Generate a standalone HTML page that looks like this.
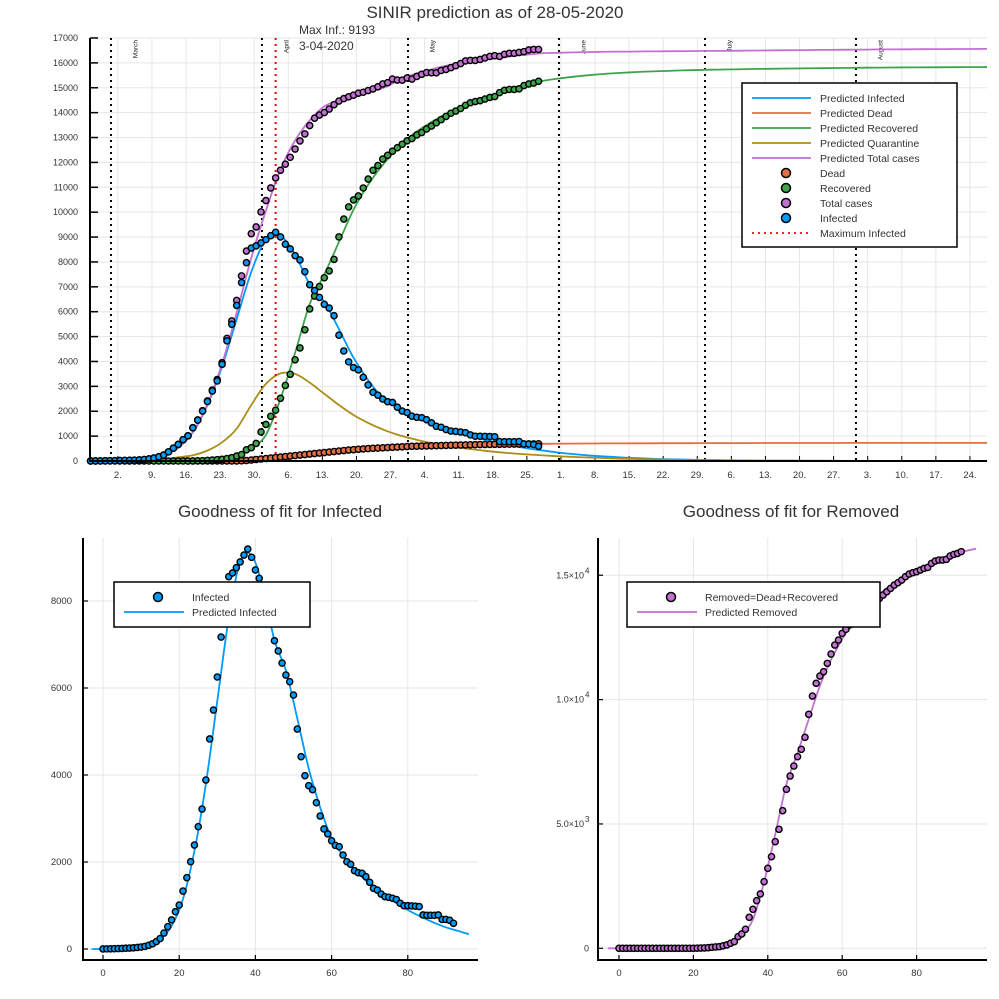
<!DOCTYPE html>
<html><head><meta charset="utf-8"><style>
html,body{margin:0;padding:0;background:#fff;}
svg{display:block;font-family:"Liberation Sans",sans-serif;}
</style></head><body>
<svg id="root" width="999" height="999" viewBox="0 0 999 999" xmlns="http://www.w3.org/2000/svg">
<rect width="999" height="999" fill="#fff"/>
<text x="495" y="18" font-size="17" text-anchor="middle" fill="#333">SINIR prediction as of 28-05-2020</text>
<text x="280" y="517" font-size="17" text-anchor="middle" fill="#333">Goodness of fit for Infected</text>
<text x="791" y="517" font-size="17" text-anchor="middle" fill="#333">Goodness of fit for Removed</text>
<g id="top"></g>
<g id="bl"></g>
<g id="br"></g>
</svg>
<script>
// ---- observed data (index = day since start) ----
const infected = [2,3,5,7,10,14,18,22,28,35,45,60,85,120,170,240,367,513,667,857,1011,1333,1640,2007,2390,2812,3218,3885,4828,5494,6253,7172,7970,8560,8644,8766,8897,9057,9193,9004,8713,8521,8250,8080,7610,7087,6851,6574,6298,6145,5839,5057,4421,3984,3754,3662,3363,3057,2759,2644,2490,2382,2352,2161,2007,1946,1800,1754,1739,1662,1533,1395,1356,1264,1203,1188,1165,1138,1050,995,995,990,985,975,782,775,775,775,782,680,680,660,590];
const removed = [0,0,0,0,0,0,0,0,0,0,0,0,0,0,0,0,0,0,0,0,0,5,10,15,25,40,55,67,100,134,200,268,469,576,764,1246,1568,1916,2184,2680,3216,3685,4288,4784,5534,6392,6928,7330,7705,8000,8482,9407,10144,10653,10948,11122,11457,11832,12194,12395,12663,12824,13000,13150,13300,13450,13550,13700,13800,13950,14070,14204,14338,14472,14606,14700,14807,14941,15048,15102,15142,15209,15276,15316,15477,15571,15611,15611,15638,15772,15839,15879,15950];
const dead = [0,0,0,0,0,0,0,0,0,0,0,0,0,0,0,0,0,0,0,0,0,0,0,0,0,0,0,0,0,0,0,10,20,40,60,80,100,120,140,160,180,200,220,240,260,280,300,320,340,360,380,400,420,440,455,470,485,500,510,520,530,540,550,560,570,580,590,595,600,605,610,615,620,625,630,635,640,645,650,655,660,663,666,669,672,675,678,680,682,684,686,688,690];
// ---- predicted series, sampled every 3 days starting at day -6 ----
const predStart = -6, predStep = 3;
const predInfected = [0,1,3,8,18,40,90,230,530,1150,2250,3800,5700,7600,8900,9050,8300,7100,6400,5300,4150,3250,2550,2150,1830,1570,1360,1180,1000,850,720,600,500,420,340,280,230,190,155,125,100,80,65,52,42,34,27,22,17,14,11,9,7,6,5,4,3,2,2,1,1,1,1,0,0];
const predRecovered = [0,0,0,0,0,0,0,0,5,15,40,100,230,500,1050,2500,4350,6300,7500,8800,10100,11100,11900,12550,13100,13500,13850,14150,14400,14620,14800,15000,15150,15280,15370,15440,15500,15550,15590,15620,15650,15670,15690,15705,15720,15730,15740,15750,15760,15768,15775,15782,15788,15794,15800,15805,15810,15814,15818,15821,15824,15827,15829,15831,15833];
const predDead = [0,0,0,0,0,0,0,0,0,0,0,5,25,60,110,170,230,290,350,405,455,500,535,565,590,610,628,643,655,665,674,681,687,692,696,700,703,706,708,710,712,714,716,717,718,719,720,721,722,723,724,724,725,725,726,726,727,727,727,728,728,728,728,729,729];
const predQuarantine = [0,0,0,0,0,0,20,60,150,230,420,750,1300,2250,3100,3520,3500,3150,2700,2250,1850,1530,1270,1060,900,760,650,560,480,410,350,300,260,225,190,165,140,120,100,85,72,60,50,42,35,29,24,20,17,14,12,10,8,7,6,5,4,3,3,2,2,2,1,1,1];
// ---- axis labels ----
const topYTicks = [0,1000,2000,3000,4000,5000,6000,7000,8000,9000,10000,11000,12000,13000,14000,15000,16000,17000];
const dateTickDays = [1,8,15,22,29,36,43,50,57,64,71,78,85,92,99,106,113,120,127,134,141,148,155,162,169,176];
const dateTickLabels = ["2.","9.","16.","23.","30.","6.","13.","20.","27.","4.","11.","18.","25.","1.","8.","15.","22.","29.","6.","13.","20.","27.","3.","10.","17.","24."];
const monthDays = [0,31,61,92,122,153];
const monthNames = ["March","April","May","June","July","August"];
const maxInfDay = 38;
const blYTicks = [0,2000,4000,6000,8000];
const fitXTicks = [0,20,40,60,80];
const brYTicks = [0,5000,10000,15000];
const brYMant = ["0","5.0×10","1.0×10","1.5×10"];
const brYExp = ["","3","4","4"];

const NS = "http://www.w3.org/2000/svg";
const C = {blue:"#009AFA",orange:"#E26F46",green:"#3DA44D",olive:"#AC8D18",purple:"#C271D2",grid:"#e6e6e6",txt:"#333"};
function mk(parent, tag, attrs){const e=document.createElementNS(NS,tag);for(const k in attrs)e.setAttribute(k,attrs[k]);parent.appendChild(e);return e;}
function smoothPath(pts){
  let d="M"+pts[0][0].toFixed(1)+","+pts[0][1].toFixed(1);
  for(let i=0;i<pts.length-1;i++){
    const p0=pts[Math.max(0,i-1)],p1=pts[i],p2=pts[i+1],p3=pts[Math.min(pts.length-1,i+2)];
    const c1=[p1[0]+(p2[0]-p0[0])/6,p1[1]+(p2[1]-p0[1])/6];
    const c2=[p2[0]-(p3[0]-p1[0])/6,p2[1]-(p3[1]-p1[1])/6];
    d+="C"+c1[0].toFixed(1)+","+c1[1].toFixed(1)+" "+c2[0].toFixed(1)+","+c2[1].toFixed(1)+" "+p2[0].toFixed(1)+","+p2[1].toFixed(1);
  }
  return d;
}
function predPts(arr, xf, yf, lo, hi){
  const pts=[];
  arr.forEach((v,k)=>{const day=predStart+k*predStep; if(day>=lo&&day<=hi) pts.push([xf(day),yf(v)]);});
  return pts;
}
const recovered = removed.map((v,i)=>Math.max(0,v-dead[i]));
const total = infected.map((v,i)=>v+removed[i]);
const predTotal = predInfected.map((v,k)=>v+predRecovered[k]+predDead[k]);
const predRemoved = predRecovered.map((v,k)=>v+predDead[k]);

// ================= TOP CHART =================
(function(){
  const g=document.getElementById("top");
  const L=90,R=987,T=38,B=461;
  const dx=d=>113+4.869*d;            // days since Mar 1
  const xi=i=>dx(i-4.6);               // observation index
  const y=v=>B-(v/17000)*(B-T);
  const clip=mk(g,"clipPath",{id:"topclip"});mk(clip,"rect",{x:L,y:T-2,width:R-L,height:B-T+2});
  dateTickDays.forEach((d,k)=>{
    const l=mk(g,"line",{x1:dx(d),x2:dx(d),y1:T,y2:B,stroke:C.grid,"stroke-width":1});
    
    
    const t=mk(g,"text",{x:dx(d),y:B+17,"font-size":9.5,"text-anchor":"middle",fill:C.txt});
    t.textContent=dateTickLabels[k];
    
    
    mk(g,"line",{x1:dx(d),x2:dx(d),y1:B,y2:B-5,stroke:"#000","stroke-width":1});
  });
  topYTicks.forEach(v=>{
    const l=mk(g,"line",{x1:L,x2:R,y1:y(v),y2:y(v),stroke:C.grid,"stroke-width":1});
    
    
    mk(g,"line",{x1:L,x2:L+8,y1:y(v),y2:y(v),stroke:"#000","stroke-width":1.5});
    const t=mk(g,"text",{x:L-12,y:y(v)+3,"font-size":9,"text-anchor":"end",fill:C.txt});
    t.textContent=v;
    
    
  });
  monthDays.forEach((d,k)=>{
    const l=mk(g,"line",{x1:dx(d)-2,x2:dx(d)-2,y1:T,y2:B,stroke:"#000","stroke-width":2,"stroke-dasharray":"2,4"});
    
    
    const tx=dx(d+5),ty=T+2;
    const t=mk(g,"text",{x:tx,y:ty,"font-size":6.5,"text-anchor":"end",fill:"#222",transform:`rotate(-90 ${tx} ${ty})`});
    t.textContent=monthNames[k];
    
    
  });
  const lg=mk(g,"g",{"clip-path":"url(#topclip)"});
  const series=[[predInfected,C.blue,"predicted-infected-line"],[predDead,C.orange,"predicted-dead-line"],[predRecovered,C.green,"predicted-recovered-line"],[predQuarantine,C.olive,"predicted-quarantine-line"],[predTotal,C.purple,"predicted-total-line"]];
  series.forEach(s=>{
    const p=mk(lg,"path",{d:smoothPath(predPts(s[0],xi,y,-6,190)),fill:"none",stroke:s[1],"stroke-width":1.8});
    
    
  });
  const red=mk(g,"line",{x1:xi(maxInfDay),x2:xi(maxInfDay),y1:T,y2:B,stroke:"#ff0000","stroke-width":2,"stroke-dasharray":"2,4"});
  
  
  const a1=mk(g,"text",{x:299,y:34,"font-size":12,fill:C.txt});a1.textContent="Max Inf.: "+infected[maxInfDay];
  
  
  const a2=mk(g,"text",{x:299,y:50,"font-size":12,fill:C.txt});a2.textContent="3-04-2020";
  
  
  const obs=[[dead,C.orange,"dead-point"],[recovered,C.green,"recovered-point"],[total,C.purple,"total-point"],[infected,C.blue,"infected-point"]];
  obs.forEach(s=>{
    s[0].forEach((v,i)=>{
      if(s[0]===dead&&i<20)return;
      const c=mk(g,"circle",{cx:xi(i),cy:y(v),r:3.1,fill:s[1],stroke:"#000","stroke-width":1.4});
      
      
    });
  });
  mk(g,"line",{x1:L,x2:L,y1:T,y2:B+1,stroke:"#000","stroke-width":2});
  mk(g,"line",{x1:L,x2:R,y1:B,y2:B,stroke:"#000","stroke-width":2});
  const leg=mk(g,"g",{});
  
  
  mk(leg,"rect",{x:742,y:83,width:215,height:164,fill:"#fff",stroke:"#000","stroke-width":1.5});
  const items=[["Predicted Infected","line",C.blue],["Predicted Dead","line",C.orange],["Predicted Recovered","line",C.green],["Predicted Quarantine","line",C.olive],["Predicted Total cases","line",C.purple],["Dead","dot",C.orange],["Recovered","dot",C.green],["Total cases","dot",C.purple],["Infected","dot",C.blue],["Maximum Infected","dash","#ff0000"]];
  items.forEach((it,k)=>{
    const yy=98+15*k;
    const e=mk(leg,"g",{});
    
    
    if(it[1]==="line")mk(e,"line",{x1:752,x2:811,y1:yy,y2:yy,stroke:it[2],"stroke-width":1.8});
    else if(it[1]==="dot")mk(e,"circle",{cx:786,cy:yy,r:4.5,fill:it[2],stroke:"#000","stroke-width":1.5});
    else mk(e,"line",{x1:752,x2:811,y1:yy,y2:yy,stroke:it[2],"stroke-width":1.8,"stroke-dasharray":"2,4"});
    const t=mk(e,"text",{x:820,y:yy+4,"font-size":10.5,fill:C.txt});t.textContent=it[0];
  });
})();

// ================= FIT CHARTS =================
function fitChart(id, cfg){
  const g=document.getElementById(id);
  const {L,R,T,B,x0,xs,y0,ys,data,pred,color,yTicks,yLabel,legend,lx,lw}=cfg;
  const x=i=>x0+xs*i, y=v=>y0-v*ys;
  fitXTicks.forEach(v=>{
    const l=mk(g,"line",{x1:x(v),x2:x(v),y1:T,y2:B,stroke:C.grid,"stroke-width":1});
    
    
    mk(g,"line",{x1:x(v),x2:x(v),y1:B,y2:B-5,stroke:"#000","stroke-width":1.2});
    const t=mk(g,"text",{x:x(v),y:B+16,"font-size":9.5,"text-anchor":"middle",fill:C.txt});t.textContent=v;
    
    
  });
  yTicks.forEach((v,k)=>{
    const l=mk(g,"line",{x1:L,x2:R,y1:y(v),y2:y(v),stroke:C.grid,"stroke-width":1});
    
    
    mk(g,"line",{x1:L,x2:L+5,y1:y(v),y2:y(v),stroke:"#000","stroke-width":1.2});
    yLabel(g,v,k,L,y(v));
  });
  const p=mk(g,"path",{d:smoothPath(predPts(pred,x,y,-3,96)),fill:"none",stroke:color,"stroke-width":1.8});
  
  
  data.forEach((v,i)=>{
    const c=mk(g,"circle",{cx:x(i),cy:y(v),r:3.1,fill:color,stroke:"#000","stroke-width":1.4});
    
    
  });
  mk(g,"line",{x1:L,x2:L,y1:T,y2:B+1,stroke:"#000","stroke-width":2});
  mk(g,"line",{x1:L,x2:R,y1:B,y2:B,stroke:"#000","stroke-width":2});
  const leg=mk(g,"g",{});
  
  
  mk(leg,"rect",{x:lx,y:582,width:lw,height:45,fill:"#fff",stroke:"#000","stroke-width":1.5});
  mk(leg,"circle",{cx:lx+44,cy:597,r:4.5,fill:color,stroke:"#000","stroke-width":1.5});
  mk(leg,"line",{x1:lx+10,x2:lx+70,y1:612,y2:612,stroke:color,"stroke-width":1.8});
  const t1=mk(leg,"text",{x:lx+78,y:601,"font-size":10.5,fill:C.txt});t1.textContent=legend[0];
  const t2=mk(leg,"text",{x:lx+78,y:616,"font-size":10.5,fill:C.txt});t2.textContent=legend[1];
}
fitChart("bl",{L:83,R:478,T:538,B:960,x0:103,xs:3.81,y0:949,ys:0.0435,data:infected,pred:predInfected,color:C.blue,yTicks:blYTicks,
  yLabel:(g,v,k,L,yy)=>{const t=mk(g,"text",{x:L-11,y:yy+3,"font-size":9.5,"text-anchor":"end",fill:C.txt});t.textContent=v;
    
    },
  legend:["Infected","Predicted Infected"],lx:114,lw:196});
fitChart("br",{L:598,R:987,T:538,B:960,x0:619,xs:3.72,y0:948.3,ys:0.02487,data:removed,pred:predRemoved,color:C.purple,yTicks:brYTicks,
  yLabel:(g,v,k,L,yy)=>{
    const t=mk(g,"text",{x:L-14,y:yy+3,"font-size":9,"text-anchor":"end",fill:C.txt});t.textContent=brYMant[k];
    
    
    if(brYExp[k]){const e=mk(g,"text",{x:L-13,y:yy-2,"font-size":8,fill:C.txt});e.textContent=brYExp[k];}
    if(!brYExp[k])t.setAttribute("x",L-9);
  },
  legend:["Removed=Dead+Recovered","Predicted Removed"],lx:627,lw:253});
</script>
</body></html>
